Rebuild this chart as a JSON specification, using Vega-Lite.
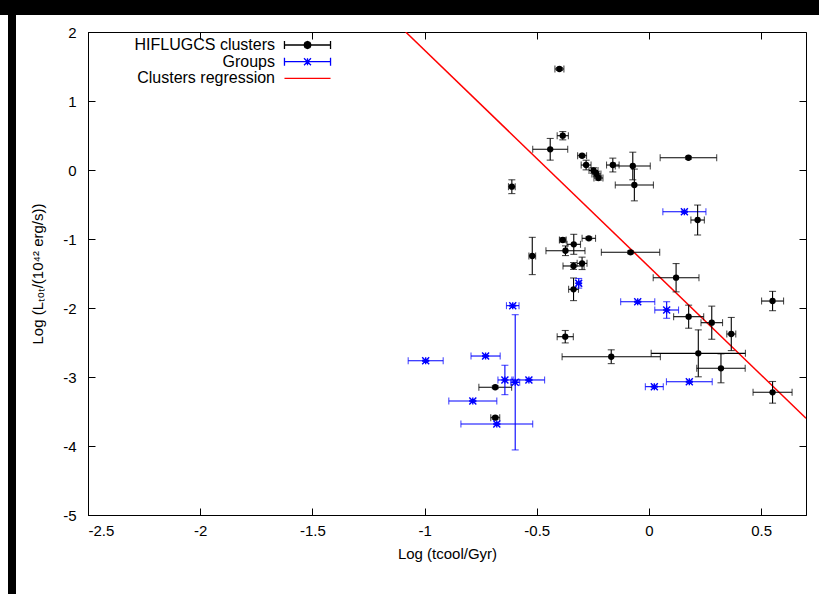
{
  "$schema": "https://vega.github.io/schema/vega-lite/v6.json",
  "padding": 0,
  "background": "white",
  "spacing": 0,
  "bounds": "flush",
  "datasets": {
    "pts": [
      {"s": "HIFLUGCS clusters", "x": -0.399, "y": 1.464, "xe": 0.02, "ye": 0.02},
      {"s": "HIFLUGCS clusters", "x": -0.384, "y": 0.497, "xe": 0.025, "ye": 0.06},
      {"s": "HIFLUGCS clusters", "x": -0.44, "y": 0.3, "xe": 0.078, "ye": 0.157},
      {"s": "HIFLUGCS clusters", "x": -0.611, "y": -0.242, "xe": 0.015, "ye": 0.1},
      {"s": "HIFLUGCS clusters", "x": -0.298, "y": 0.207, "xe": 0.02, "ye": 0.02},
      {"s": "HIFLUGCS clusters", "x": -0.28, "y": 0.072, "xe": 0.022, "ye": 0.07},
      {"s": "HIFLUGCS clusters", "x": -0.247, "y": -0.007, "xe": 0.02, "ye": 0.04},
      {"s": "HIFLUGCS clusters", "x": -0.234, "y": -0.058, "xe": 0.02, "ye": 0.04},
      {"s": "HIFLUGCS clusters", "x": -0.225, "y": -0.116, "xe": 0.02, "ye": 0.03},
      {"s": "HIFLUGCS clusters", "x": -0.161, "y": 0.072, "xe": 0.028, "ye": 0.1},
      {"s": "HIFLUGCS clusters", "x": -0.072, "y": 0.058, "xe": 0.078, "ye": 0.2},
      {"s": "HIFLUGCS clusters", "x": -0.065, "y": -0.217, "xe": 0.085, "ye": 0.23},
      {"s": "HIFLUGCS clusters", "x": 0.176, "y": 0.178, "xe": 0.126, "ye": 0.02},
      {"s": "HIFLUGCS clusters", "x": 0.217, "y": -0.725, "xe": 0.03, "ye": 0.217},
      {"s": "HIFLUGCS clusters", "x": -0.082, "y": -1.193, "xe": 0.13, "ye": 0.02},
      {"s": "HIFLUGCS clusters", "x": 0.121, "y": -1.561, "xe": 0.102, "ye": 0.205},
      {"s": "HIFLUGCS clusters", "x": 0.551, "y": -1.899, "xe": 0.049, "ye": 0.14},
      {"s": "HIFLUGCS clusters", "x": 0.177, "y": -2.126, "xe": 0.067, "ye": 0.167},
      {"s": "HIFLUGCS clusters", "x": 0.28, "y": -2.213, "xe": 0.048, "ye": 0.24},
      {"s": "HIFLUGCS clusters", "x": 0.367, "y": -2.377, "xe": 0.02, "ye": 0.24},
      {"s": "HIFLUGCS clusters", "x": 0.22, "y": -2.657, "xe": 0.21, "ye": 0.34},
      {"s": "HIFLUGCS clusters", "x": 0.321, "y": -2.874, "xe": 0.108, "ye": 0.21},
      {"s": "HIFLUGCS clusters", "x": 0.551, "y": -3.222, "xe": 0.087, "ye": 0.157},
      {"s": "HIFLUGCS clusters", "x": -0.52, "y": -1.246, "xe": 0.015, "ye": 0.27},
      {"s": "HIFLUGCS clusters", "x": -0.384, "y": -1.014, "xe": 0.015, "ye": 0.03},
      {"s": "HIFLUGCS clusters", "x": -0.372, "y": -1.17, "xe": 0.087, "ye": 0.07},
      {"s": "HIFLUGCS clusters", "x": -0.335, "y": -1.077, "xe": 0.03, "ye": 0.145},
      {"s": "HIFLUGCS clusters", "x": -0.268, "y": -0.99, "xe": 0.03, "ye": 0.02},
      {"s": "HIFLUGCS clusters", "x": -0.336, "y": -1.391, "xe": 0.047, "ye": 0.05},
      {"s": "HIFLUGCS clusters", "x": -0.298, "y": -1.353, "xe": 0.022, "ye": 0.09},
      {"s": "HIFLUGCS clusters", "x": -0.336, "y": -1.729, "xe": 0.022, "ye": 0.164},
      {"s": "HIFLUGCS clusters", "x": -0.373, "y": -2.416, "xe": 0.036, "ye": 0.09},
      {"s": "HIFLUGCS clusters", "x": -0.168, "y": -2.706, "xe": 0.219, "ye": 0.1},
      {"s": "HIFLUGCS clusters", "x": -0.685, "y": -3.149, "xe": 0.073, "ye": 0.02},
      {"s": "HIFLUGCS clusters", "x": -0.685, "y": -3.59, "xe": 0.02, "ye": 0.02},
      {"s": "Groups", "x": -0.607, "y": -1.966, "xe": 0.028, "ye": 0.01},
      {"s": "Groups", "x": -0.995, "y": -2.764, "xe": 0.078, "ye": 0.01},
      {"s": "Groups", "x": -0.728, "y": -2.696, "xe": 0.065, "ye": 0.01},
      {"s": "Groups", "x": -0.642, "y": -3.043, "xe": 0.031, "ye": 0.213},
      {"s": "Groups", "x": -0.596, "y": -3.077, "xe": 0.02, "ye": 0.98},
      {"s": "Groups", "x": -0.535, "y": -3.043, "xe": 0.07, "ye": 0.01},
      {"s": "Groups", "x": -0.678, "y": -3.681, "xe": 0.16, "ye": 0.01},
      {"s": "Groups", "x": -0.785, "y": -3.348, "xe": 0.107, "ye": 0.01},
      {"s": "Groups", "x": 0.158, "y": -0.604, "xe": 0.096, "ye": 0.01},
      {"s": "Groups", "x": -0.313, "y": -1.642, "xe": 0.01, "ye": 0.07},
      {"s": "Groups", "x": -0.05, "y": -1.909, "xe": 0.076, "ye": 0.01},
      {"s": "Groups", "x": 0.079, "y": -2.029, "xe": 0.053, "ye": 0.12},
      {"s": "Groups", "x": 0.024, "y": -3.14, "xe": 0.04, "ye": 0.01},
      {"s": "Groups", "x": 0.18, "y": -3.068, "xe": 0.102, "ye": 0.01}
    ],
    "fit": [
      {"s": "Clusters regression", "x": -1.084, "y": 2.0},
      {"s": "Clusters regression", "x": 0.7, "y": -3.598}
    ]
  },
  "config": {
    "font": "Liberation Sans",
    "axis": {
      "grid": false,
      "labelFont": "Liberation Sans",
      "labelFontSize": 15,
      "labelColor": "black",
      "titleFont": "Liberation Sans",
      "titleFontSize": 15,
      "titleFontWeight": "normal",
      "titleColor": "black",
      "domainColor": "black",
      "domainWidth": 1,
      "tickColor": "black",
      "tickWidth": 1
    }
  },
  "vconcat": [
    {"width": 819, "height": 10, "data": {"values": []}, "mark": "point", "view": {"fill": "black", "stroke": null}},
    {
      "spacing": 0,
      "bounds": "flush",
      "hconcat": [
        {"width": 8, "height": 584, "data": {"values": []}, "mark": "point", "view": {"stroke": null}},
        {"width": 8, "height": 584, "data": {"values": []}, "mark": "point", "view": {"fill": "black", "stroke": null}},
        {"width": 72, "height": 584, "data": {"values": []}, "mark": "point", "view": {"stroke": null}},
        {
          "spacing": 0,
          "bounds": "flush",
          "vconcat": [
            {"width": 718, "height": 22, "data": {"values": []}, "mark": "point", "view": {"stroke": null}},
            {
              "width": 718,
              "height": 483,
              "view": {"stroke": "black", "strokeWidth": 1},
              "resolve": {"axis": {"x": "independent", "y": "independent"}},
              "layer": [
                {
                  "data": {"name": "fit"},
                  "mark": {"type": "line", "strokeWidth": 1.5, "clip": true},
                  "encoding": {
                    "x": {
                      "field": "x", "type": "quantitative",
                      "scale": {"domain": [-2.5, 0.7], "nice": false, "zero": false},
                      "axis": {
                        "orient": "bottom",
                        "values": [-2.5, -2, -1.5, -1, -0.5, 0, 0.5],
                        "labelExpr": "'' + datum.value",
                        "ticks": false,
                        "labelPadding": 8,
                        "title": "Log (tcool/Gyr)",
                        "titlePadding": 8
                      }
                    },
                    "y": {
                      "field": "y", "type": "quantitative",
                      "scale": {"domain": [-5, 2], "nice": false, "zero": false},
                      "axis": {
                        "orient": "left",
                        "values": [-5, -4, -3, -2, -1, 0, 1, 2],
                        "labelExpr": "'' + datum.value",
                        "ticks": false,
                        "labelPadding": 12,
                        "title": "Log (Lₜₒₜ/(10⁴² erg/s))",
                        "titlePadding": 17
                      }
                    },
                    "color": {
                      "field": "s", "type": "nominal",
                      "scale": {
                        "domain": ["HIFLUGCS clusters", "Groups", "Clusters regression"],
                        "range": ["#000000", "#0000ff", "#ff0000"]
                      },
                      "legend": {
                        "orient": "none",
                        "legendX": 299.5,
                        "legendY": 37,
                        "title": null,
                        "symbolSize": 196,
                        "rowPadding": 0.7,
                        "labelAlign": "right",
                        "labelOffset": -40.5,
                        "labelFont": "Liberation Sans",
                        "labelFontSize": 16,
                        "labelColor": "black",
                        "labelLimit": 300,
                        "encode": {
                          "symbols": {
                            "update": {
                              "shape": {"signal": "datum.value === 'Groups' ? 'M-3.29,0H3.29M-3.29,-0.57V0.57M3.29,-0.57V0.57M-0.5,-0.5L0.5,0.5M-0.5,0.5L0.5,-0.5M0,-0.5V0.5' : datum.value === 'Clusters regression' ? 'M-3.29,0H3.29' : 'M-3.29,0H3.29M-3.29,-0.57V0.57M3.29,-0.57V0.57M0.5,0L0.354,0.354L0,0.5L-0.354,0.354L-0.5,0L-0.354,-0.354L0,-0.5L0.354,-0.354Z'"},
                              "fill": {"signal": "datum.value === 'Clusters regression' ? 'transparent' : datum.value === 'Groups' ? '#0000ff' : '#000000'"},
                              "stroke": {"signal": "datum.value === 'Clusters regression' ? '#ff0000' : datum.value === 'Groups' ? '#0000ff' : '#000000'"},
                              "strokeWidth": {"value": 1.3},
                              "opacity": {"value": 1}
                            }
                          }
                        }
                      }
                    }
                  }
                },
                {
                  "data": {"name": "pts"},
                  "mark": {"type": "errorbar", "ticks": {"size": 7}, "thickness": 1.1},
                  "encoding": {
                    "x": {"field": "x", "type": "quantitative", "axis": null},
                    "xError": {"field": "xe"},
                    "y": {"field": "y", "type": "quantitative", "axis": null},
                    "color": {"field": "s", "type": "nominal"}
                  }
                },
                {
                  "data": {"name": "pts"},
                  "mark": {"type": "errorbar", "ticks": {"size": 7}, "thickness": 1.1},
                  "encoding": {
                    "x": {"field": "x", "type": "quantitative", "axis": null},
                    "y": {"field": "y", "type": "quantitative", "axis": null},
                    "yError": {"field": "ye"},
                    "color": {"field": "s", "type": "nominal"}
                  }
                },
                {
                  "data": {"name": "pts"},
                  "transform": [{"filter": "datum.s === 'HIFLUGCS clusters'"}],
                  "mark": {"type": "point", "shape": "circle", "filled": true, "size": 40, "opacity": 1},
                  "encoding": {
                    "x": {
                      "field": "x", "type": "quantitative",
                      "axis": {"orient": "top", "offset": -483, "values": [-2.5, -2, -1.5, -1, -0.5, 0, 0.5], "tickSize": 7, "labels": false, "domain": false, "title": null}
                    },
                    "y": {
                      "field": "y", "type": "quantitative",
                      "axis": {"orient": "right", "offset": -718, "values": [-5, -4, -3, -2, -1, 0, 1, 2], "tickSize": 7, "labels": false, "domain": false, "title": null}
                    },
                    "color": {"field": "s", "type": "nominal"}
                  }
                },
                {
                  "data": {"name": "pts"},
                  "transform": [{"filter": "datum.s === 'Groups'"}],
                  "mark": {"type": "point", "shape": "M-1,-1L1,1M-1,1L1,-1M-1,0H1M0,-1V1", "filled": false, "size": 49, "strokeWidth": 1.4, "opacity": 1},
                  "encoding": {
                    "x": {
                      "field": "x", "type": "quantitative",
                      "axis": {"orient": "bottom", "offset": -483, "values": [-2.5, -2, -1.5, -1, -0.5, 0, 0.5], "tickSize": 7, "labels": false, "domain": false, "title": null}
                    },
                    "y": {
                      "field": "y", "type": "quantitative",
                      "axis": {"orient": "left", "offset": -718, "values": [-5, -4, -3, -2, -1, 0, 1, 2], "tickSize": 7, "labels": false, "domain": false, "title": null}
                    },
                    "color": {"field": "s", "type": "nominal"}
                  }
                }
              ]
            }
          ]
        }
      ]
    },
    {"width": 819, "height": 5, "data": {"values": []}, "mark": "point", "view": {"fill": "black", "stroke": null}}
  ]
}
